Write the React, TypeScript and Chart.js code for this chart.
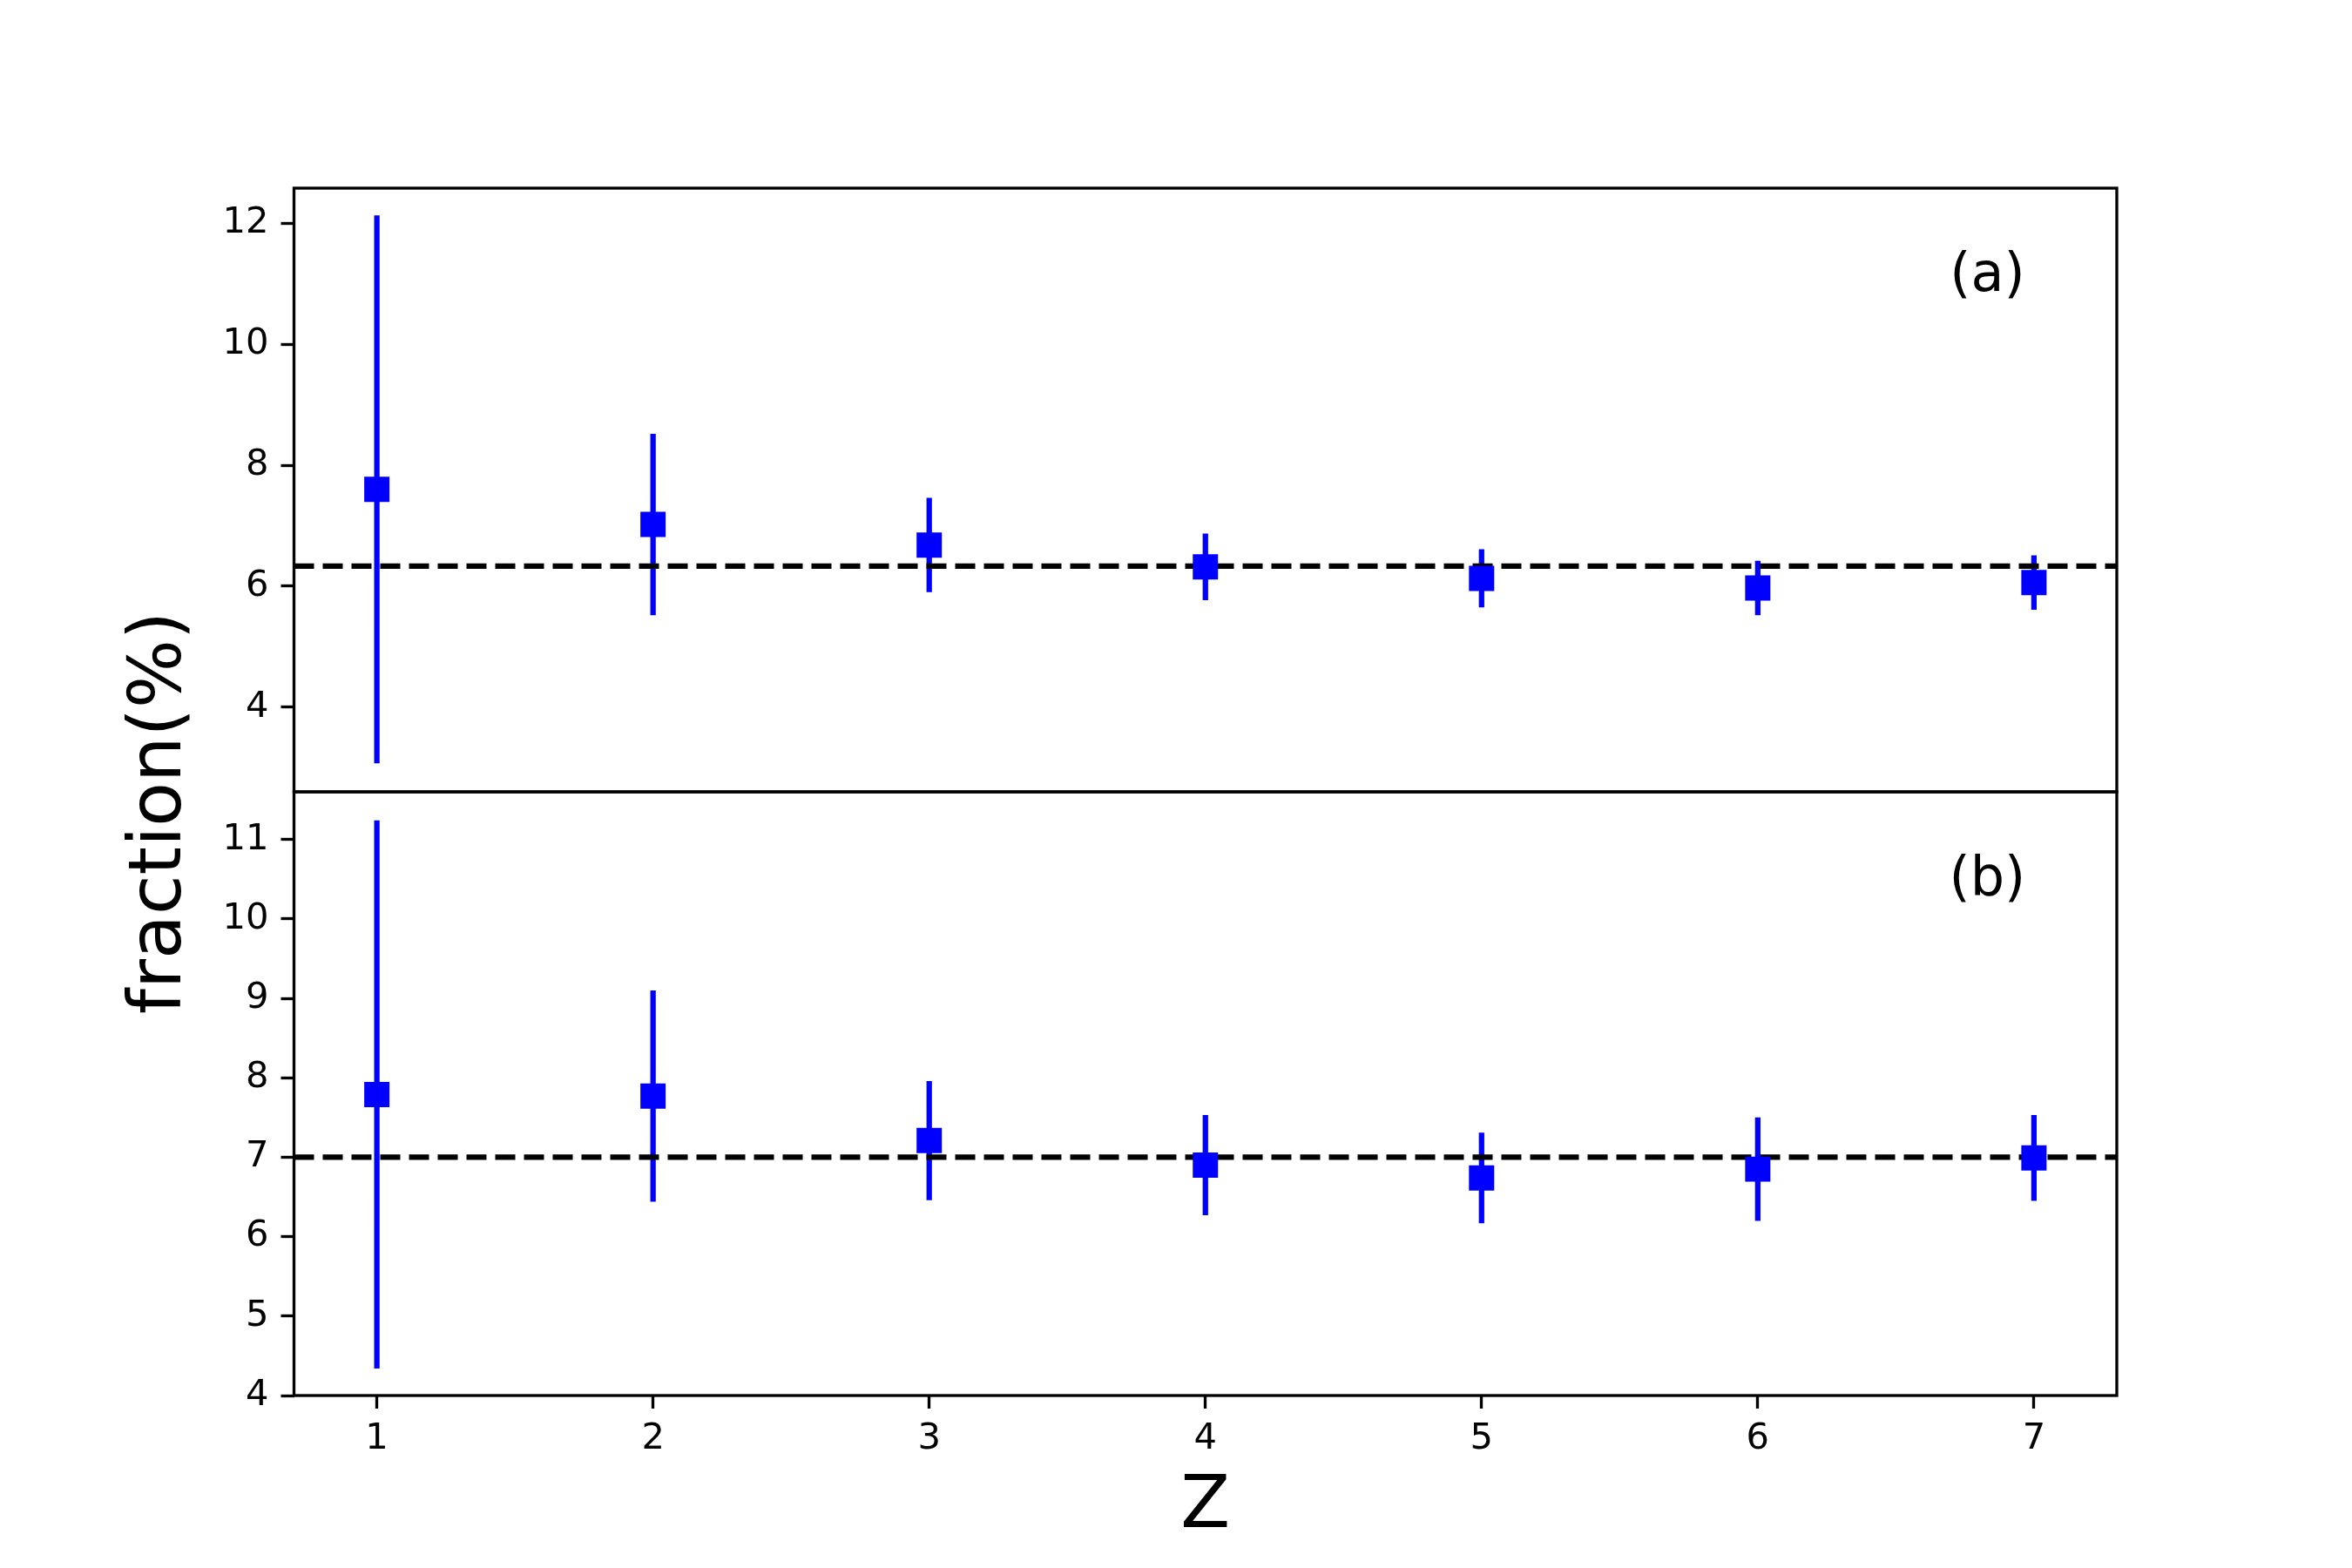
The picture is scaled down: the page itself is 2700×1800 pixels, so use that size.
import React, { useEffect, useRef } from "react";
import { Chart, registerables } from "chart.js";

Chart.register(...registerables);

// ---------- data ----------
const zValues = [1, 2, 3, 4, 5, 6, 7];
const fractionA = [7.6, 7.02, 6.68, 6.32, 6.13, 5.97, 6.06];
const errorA = [4.53, 1.5, 0.78, 0.55, 0.48, 0.45, 0.45];
const referenceA = 6.33;
const fractionB = [7.79, 7.77, 7.21, 6.9, 6.74, 6.85, 6.99];
const errorB = [3.45, 1.33, 0.75, 0.63, 0.57, 0.65, 0.54];
const referenceB = 7.0;
const xTicks = [1, 2, 3, 4, 5, 6, 7];
const yTicksA = [4, 6, 8, 10, 12];
const yTicksB = [4, 5, 6, 7, 8, 9, 10, 11];
const xLimits = [0.7, 7.3];
const yLimitsA = [2.6, 12.58];
const yLimitsB = [4.0, 11.6];
const panelLabels = ["(a)", "(b)"];
const xTitle = "Z";
const yTitle = "fraction(%)";

// ---------- layout ----------
const W = 2700;
const H = 1800;
const LEFT = 337.5;
const RIGHT = 2430;
const TOP = 216;
const MID = 909;
const BOTTOM = 1602;
const FONT = '"DejaVu Sans", "Liberation Sans", sans-serif';
const BLUE = "#0000ff";

function errorSegments(xs: number[], ys: number[], es: number[]) {
  const pts: { x: number; y: number | null }[] = [];
  xs.forEach((x, i) => {
    pts.push({ x, y: ys[i] - es[i] });
    pts.push({ x, y: ys[i] + es[i] });
    pts.push({ x, y: null });
  });
  return pts;
}

function decorPlugin(label: string, drawTitles: boolean) {
  return {
    id: "decor",
    afterDraw(chart: any) {
      const { ctx, chartArea: a } = chart;
      ctx.save();
      ctx.strokeStyle = "#000";
      ctx.lineWidth = 3.33;
      ctx.strokeRect(a.left, a.top, a.right - a.left, a.bottom - a.top);
      ctx.fillStyle = "#000";
      ctx.textAlign = "center";
      ctx.textBaseline = "alphabetic";
      ctx.font = `62px ${FONT}`;
      ctx.fillText(label, a.left + 0.929 * (a.right - a.left), a.top + 118);
      if (drawTitles) {
        ctx.font = `83px ${FONT}`;
        ctx.fillText(xTitle, (LEFT + RIGHT) / 2, 1753);
        ctx.save();
        ctx.translate(207, 933);
        ctx.rotate(-Math.PI / 2);
        ctx.fillText(yTitle, 0, 0);
        ctx.restore();
      }
      ctx.restore();
    },
  };
}

function makeConfig(opts: {
  values: number[];
  errors: number[];
  reference: number;
  yLimits: number[];
  yTicks: number[];
  label: string;
  showX: boolean;
  top: number;
  bottom: number;
}): any {
  const { values, errors, reference, yLimits, yTicks, label, showX, top, bottom } = opts;
  const tickFont = { family: FONT, size: 41.67 };
  const grid = {
    display: true,
    drawOnChartArea: false,
    drawTicks: true,
    tickLength: 15,
    tickWidth: 3.33,
    tickColor: "#000",
  };
  return {
    type: "scatter",
    data: {
      datasets: [
        {
          type: "scatter",
          data: zValues.map((x, i) => ({ x, y: values[i] })),
          pointStyle: "rect",
          pointRadius: 20.5,
          pointHoverRadius: 20.5,
          backgroundColor: BLUE,
          borderColor: BLUE,
          borderWidth: 0,
          order: 0,
        },
        {
          type: "line",
          data: [
            { x: xLimits[0], y: reference },
            { x: xLimits[1], y: reference },
          ],
          borderColor: "#000",
          borderWidth: 6.25,
          borderDash: [23, 10],
          pointRadius: 0,
          fill: false,
          order: 1,
        },
        {
          type: "line",
          data: errorSegments(zValues, values, errors),
          borderColor: BLUE,
          borderWidth: 6.25,
          pointRadius: 0,
          spanGaps: false,
          fill: false,
          order: 2,
        },
      ],
    },
    options: {
      responsive: false,
      animation: false,
      devicePixelRatio: 1,
      events: [],
      layout: { padding: { left: 0, right: W - RIGHT, top, bottom } },
      plugins: { legend: { display: false }, tooltip: { enabled: false } },
      scales: {
        x: {
          type: "linear",
          display: showX,
          min: xLimits[0],
          max: xLimits[1],
          afterBuildTicks: (s: any) => {
            s.ticks = xTicks.map((v) => ({ value: v }));
          },
          afterFit: (s: any) => {
            s.height = showX ? H - BOTTOM : 0;
          },
          grid,
          border: { display: false },
          ticks: {
            autoSkip: false,
            maxRotation: 0,
            padding: 10,
            color: "#000",
            font: tickFont,
          },
        },
        y: {
          type: "linear",
          min: yLimits[0],
          max: yLimits[1],
          afterBuildTicks: (s: any) => {
            s.ticks = yTicks.map((v) => ({ value: v }));
          },
          afterFit: (s: any) => {
            s.width = LEFT;
          },
          grid,
          border: { display: false },
          ticks: {
            autoSkip: false,
            padding: 14,
            color: "#000",
            font: tickFont,
          },
        },
      },
    },
    plugins: [decorPlugin(label, showX)],
  };
}

export default function App() {
  const topRef = useRef<HTMLCanvasElement | null>(null);
  const bottomRef = useRef<HTMLCanvasElement | null>(null);

  useEffect(() => {
    const charts: Chart[] = [];
    if (bottomRef.current) {
      charts.push(
        new Chart(
          bottomRef.current,
          makeConfig({
            values: fractionB,
            errors: errorB,
            reference: referenceB,
            yLimits: yLimitsB,
            yTicks: yTicksB,
            label: panelLabels[1],
            showX: true,
            top: MID,
            bottom: 0,
          })
        )
      );
    }
    if (topRef.current) {
      charts.push(
        new Chart(
          topRef.current,
          makeConfig({
            values: fractionA,
            errors: errorA,
            reference: referenceA,
            yLimits: yLimitsA,
            yTicks: yTicksA,
            label: panelLabels[0],
            showX: false,
            top: TOP,
            bottom: H - MID,
          })
        )
      );
    }
    return () => charts.forEach((c) => c.destroy());
  }, []);

  const canvasStyle: React.CSSProperties = {
    position: "absolute",
    left: 0,
    top: 0,
    width: W,
    height: H,
  };

  return (
    <div
      style={{
        position: "absolute",
        left: 0,
        top: 0,
        width: W,
        height: H,
        background: "#fff",
      }}
    >
      <canvas ref={bottomRef} width={W} height={H} style={canvasStyle} />
      <canvas ref={topRef} width={W} height={H} style={canvasStyle} />
    </div>
  );
}
